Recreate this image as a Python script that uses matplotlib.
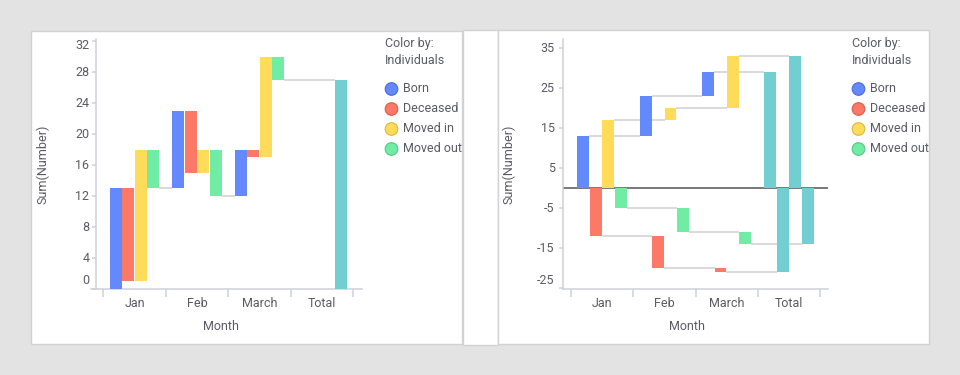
import matplotlib
matplotlib.use("Agg")
import matplotlib.pyplot as plt
from matplotlib.patches import Rectangle, Ellipse
import matplotlib.transforms as mtransforms

plt.rcParams['font.family'] = ['Roboto', 'DejaVu Sans']

# ---------------- data ----------------
months = ["Jan", "Feb", "March"]
categories = ["Jan", "Feb", "March", "Total"]
individuals = ["Born", "Deceased", "Moved in", "Moved out"]
born = [13, 10, 6]
deceased = [-12, -8, -1]
moved_in = [17, 3, 13]
moved_out = [-5, -6, -3]
series = [born, deceased, moved_in, moved_out]
colors = ["#6489FD", "#FC7967", "#FEDC5A", "#71ECA5"]
edge_colors = ["#4A6AD8", "#D85A4A", "#D8B83A", "#4FC885"]
total_color = "#72CFD1"
left_yticks = [0, 4, 8, 12, 16, 20, 24, 28, 32]
right_yticks = [-25, -15, -5, 5, 15, 25, 35]

# ---------------- layout helpers ----------------
W, H = 960, 375
fig = plt.figure(figsize=(W / 100, H / 100), dpi=100)
fig.patch.set_facecolor("#E3E3E3")


def fx(px):
    return px / W


def fy(py):
    return 1 - py / H


def panel(x0, y0, x1, y1):
    fig.patches.append(Rectangle((fx(x0), fy(y1)), fx(x1) - fx(x0), fy(y0) - fy(y1),
                                 transform=fig.transFigure, facecolor="white",
                                 edgecolor="#D2D2D2", linewidth=1.0, zorder=-5))


panel(31, 31, 462, 344)
panel(462.5, 30, 497.5, 345)
panel(498, 30, 929, 344)

AX_COL = "#CFCFDB"
TXT_COL = "#5A5A66"
FS = 9
offsets = [-0.3, -0.1, 0.1, 0.3]
bw = 0.19
CONN = "#D0D0D0"


def make_axes(x0, x1, top, bottom, xlim, ylim, spine_px, yticks, label_gap):
    ax = fig.add_axes([fx(x0), fy(bottom), fx(x1) - fx(x0), fy(top) - fy(bottom)])
    ax.set_zorder(1)
    ax.set_facecolor("none")
    ax.set_xlim(*xlim)
    ax.set_ylim(*ylim)
    for s in ["top", "right"]:
        ax.spines[s].set_visible(False)
    for s in ["left", "bottom"]:
        ax.spines[s].set_color(AX_COL)
        ax.spines[s].set_linewidth(1.1)
    sp_frac = (spine_px - x0) / (x1 - x0)
    ax.spines["left"].set_position(("axes", sp_frac))
    # x ticks: labels at centers, marks at boundaries
    ax.set_xticks(range(len(categories)))
    ax.set_xticklabels(categories, fontsize=FS, color=TXT_COL)
    ax.tick_params(axis="x", which="major", length=0, pad=5.5)
    ax.set_xticks([i - 0.5 for i in range(len(categories) + 1)], minor=True)
    ax.tick_params(axis="x", which="minor", length=6, width=1.1, color=AX_COL, direction="out")
    # y ticks: marks only; labels drawn so they stay inside axis range
    ax.set_yticks(yticks)
    ax.set_yticklabels([])
    ax.tick_params(axis="y", length=3, width=1.1, color=AX_COL, direction="out")
    height_px = bottom - top
    per_px = (ylim[1] - ylim[0]) / height_px
    trans = mtransforms.offset_copy(ax.get_yaxis_transform(), fig=fig,
                                    x=-label_gap, y=0, units="dots")
    for t in yticks:
        py = bottom - (t - ylim[0]) / per_px
        py = min(max(py, top + 6), bottom - 9)
        yv = ylim[0] + (bottom - py) * per_px
        ax.text(sp_frac, yv, str(t), transform=trans, ha="right", va="center",
                fontsize=FS, color=TXT_COL)
    return ax


# ---------------- left chart ----------------
axL = make_axes(91, 361.7, 39.3, 289, (-0.697, 3.634), (0, 32.22), 95.7, left_yticks, 6.5)
r = 0
for i, m in enumerate(months):
    for k, s in enumerate(series):
        v = s[i]
        axL.bar(i + offsets[k], v, bottom=r, width=bw, color=colors[k], zorder=3, linewidth=0)
        r += v
    x_start = i + offsets[-1] + bw / 2
    x_end = (i + 1) + (offsets[0] if i + 1 < len(months) else offsets[-1]) - bw / 2
    axL.plot([x_start, x_end], [r, r], color=CONN, lw=1.1, zorder=2, solid_capstyle="butt")
axL.bar(3 + offsets[-1], r, bottom=0, width=bw, color=total_color, zorder=3, linewidth=0)

# ---------------- right chart ----------------
axR = make_axes(562.7, 828.3, 39.3, 289, (-0.628, 3.628), (-25.17, 37.25), 562.7, right_yticks, 8)
axR.axhline(0, color="#555555", lw=1.1, zorder=2.5)
for k, s in enumerate(series):
    c = 0
    for i, m in enumerate(months):
        v = s[i]
        axR.bar(i + offsets[k], v, bottom=c, width=bw, color=colors[k], zorder=3, linewidth=0)
        c += v
        axR.plot([i + offsets[k] + bw / 2, i + 1 + offsets[k] - bw / 2], [c, c],
                 color=CONN, lw=1.1, zorder=2, solid_capstyle="butt")
    axR.bar(3 + offsets[k], c, bottom=0, width=bw, color=total_color, zorder=3, linewidth=0)

# ---------------- axis titles ----------------
fig.text(fx(42.5), fy(164), "Sum(Number)", rotation=90, ha="center", va="center",
         fontsize=FS, color=TXT_COL)
fig.text(fx(509), fy(164), "Sum(Number)", rotation=90, ha="center", va="center",
         fontsize=FS, color=TXT_COL)
fig.text(fx(220.5), fy(327), "Month", ha="center", va="center", fontsize=FS, color=TXT_COL)
fig.text(fx(687.5), fy(327), "Month", ha="center", va="center", fontsize=FS, color=TXT_COL)


# ---------------- legends ----------------
def legend(x0):
    fig.text(fx(x0), fy(43.5), "Color by:", ha="left", va="center", fontsize=FS, color=TXT_COL)
    fig.text(fx(x0), fy(60.5), "Individuals", ha="left", va="center", fontsize=FS, color=TXT_COL)
    for k, name in enumerate(individuals):
        yc = 89 + 20 * k
        fig.patches.append(Ellipse((fx(x0 + 6.5), fy(yc)), width=12.6 / W, height=12.6 / H,
                                   transform=fig.transFigure, facecolor=colors[k],
                                   edgecolor=edge_colors[k], linewidth=0.8, zorder=5))
        fig.text(fx(x0 + 18), fy(yc), name, ha="left", va="center", fontsize=FS, color=TXT_COL)


legend(385)
legend(852)

fig.savefig("out.png", dpi=100, facecolor=fig.get_facecolor())
